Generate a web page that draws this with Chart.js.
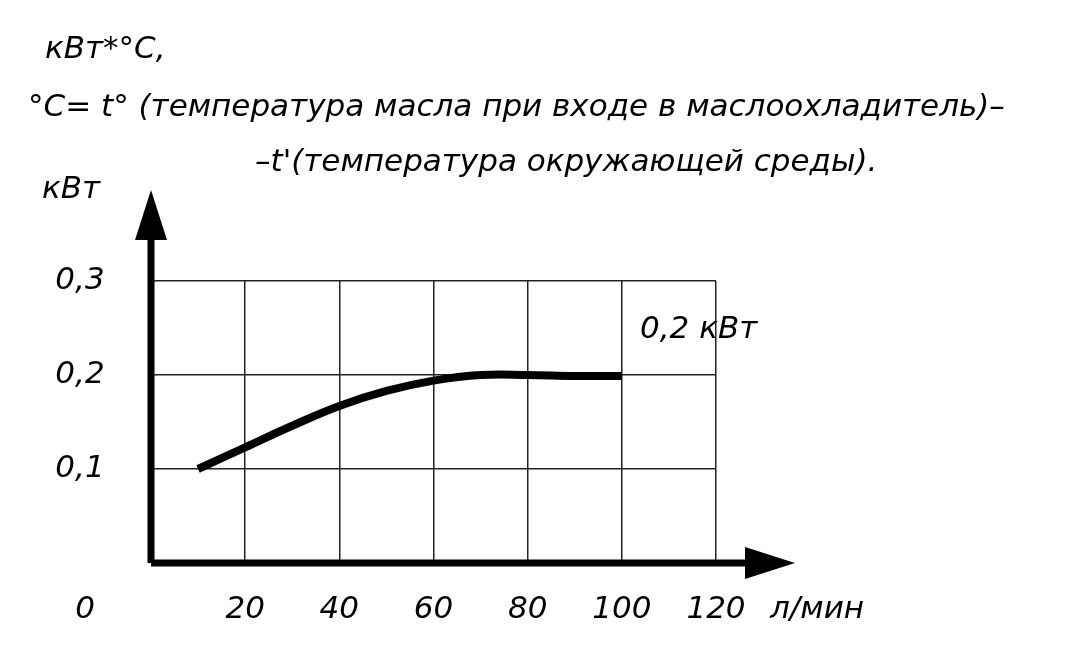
<!DOCTYPE html>
<html><head><meta charset="utf-8">
<script src="https://cdn.jsdelivr.net/npm/chart.js@4/dist/chart.umd.min.js"></script>
<style>html,body{margin:0;background:#fff}#wrap{width:1087px;height:659px;position:relative}</style>
</head><body><div id="wrap"><canvas id="c"></canvas></div>
<script>
// data
const flowValues = [10, 20, 30, 40, 50, 60, 70, 80, 90, 100];
const powerValues = [0.1, 0.123, 0.146, 0.167, 0.183, 0.194, 0.2, 0.2, 0.199, 0.199];
const xTickLabels = [20, 40, 60, 80, 100, 120];
const yTickLabels = ['0,1', '0,2', '0,3'];
const yTickValues = [0.1, 0.2, 0.3];

const FONT = 'italic 200 31px "DejaVu Sans", sans-serif';

const overlay = {
    id: 'overlay',
    afterDraw(chart) {
        const c = chart.ctx, xs = chart.scales.x, ys = chart.scales.y;
        const x0 = xs.getPixelForValue(0), y0 = ys.getPixelForValue(0);
        c.save();
        // axes with arrows
        c.strokeStyle = '#000'; c.fillStyle = '#000'; c.lineWidth = 7;
        c.beginPath(); c.moveTo(x0, y0); c.lineTo(x0, 230); c.stroke();
        c.beginPath(); c.moveTo(x0, y0); c.lineTo(755, y0); c.stroke();
        c.beginPath(); c.moveTo(x0 - 16, 240); c.lineTo(x0, 190); c.lineTo(x0 + 16, 240); c.closePath(); c.fill();
        c.beginPath(); c.moveTo(745, y0 - 16); c.lineTo(795, y0); c.lineTo(745, y0 + 16); c.closePath(); c.fill();
        // tick labels
        c.font = FONT; c.textBaseline = 'middle';
        c.textAlign = 'center';
        xTickLabels.forEach(v => c.fillText(String(v), xs.getPixelForValue(v), 610));
        c.fillText('0', 85, 610);
        yTickValues.forEach((v, i) => c.fillText(yTickLabels[i], 80, ys.getPixelForValue(v)));
        // texts
        c.textAlign = 'left';
        c.fillText('кВт*°С,', 45, 50);
        c.fillText('°С= t° (температура масла при входе в маслоохладитель)–', 28, 108);
        c.fillText('–t\'(температура окружающей среды).', 255, 163);
        c.fillText('кВт', 42, 190);
        c.fillText('0,2 кВт', 640, 330);
        c.fillText('л/мин', 770, 610);
        c.restore();
    }
};

new Chart(document.getElementById('c'), {
    type: 'line',
    data: {
        labels: flowValues,
        datasets: [{
            data: flowValues.map((x, i) => ({ x, y: powerValues[i] })),
            borderColor: '#000', borderWidth: 8, pointRadius: 0,
            tension: 0.4, fill: false, borderCapStyle: 'butt'
        }]
    },
    options: {
        responsive: true, maintainAspectRatio: false, animation: false,
        layout: { padding: { left: 151, right: 371, top: 281, bottom: 96 } },
        plugins: { legend: { display: false }, tooltip: { enabled: false } },
        scales: {
            x: {
                type: 'linear', min: 0, max: 120,
                ticks: { display: false, stepSize: 20 },
                grid: { color: '#222', lineWidth: 1.5, drawTicks: false },
                border: { display: false }
            },
            y: {
                min: 0, max: 0.3,
                ticks: { display: false, stepSize: 0.1 },
                grid: { color: '#222', lineWidth: 1.5, drawTicks: false },
                border: { display: false }
            }
        }
    },
    plugins: [overlay]
});
</script></body></html>
